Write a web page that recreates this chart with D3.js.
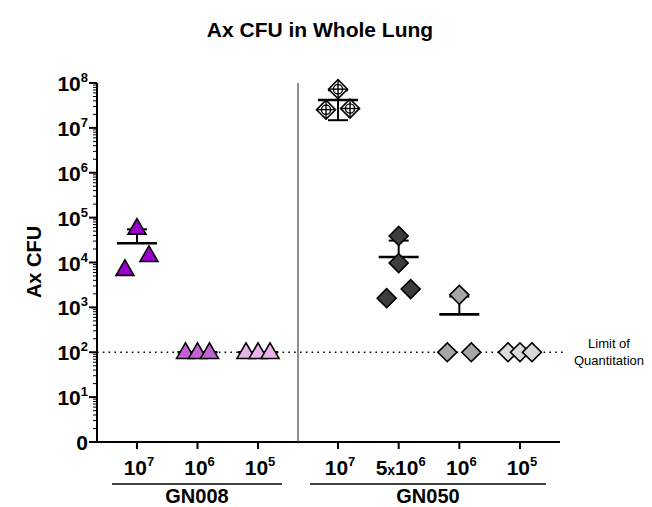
<!DOCTYPE html>
<html>
<head>
<meta charset="utf-8">
<script src="https://cdn.jsdelivr.net/npm/d3@7"></script>
<style>
  body { margin: 0; background: #fff; }
  svg { font-family: "Liberation Sans", Arial, sans-serif; }
</style>
</head>
<body>
<svg id="chart" width="652" height="507"></svg>
<script>
// --- data ---
const groups = ["GN008", "GN050"];
const doseLabels = {
  GN008: [["10", "7"], ["10", "6"], ["10", "5"]],
  GN050: [["10", "7"], ["5x10", "6"], ["10", "6"], ["10", "5"]]
};
const gn008Values = [
  [59000, 7100, 14500],
  [100, 100, 100],
  [100, 100, 100]
];
const gn050Values = [
  [73000000, 25500000, 27000000],
  [39000, 9700, 1600, 2560],
  [1900, 100, 100],
  [100, 100, 100]
];
const yTickExps = [0, 1, 2, 3, 4, 5, 6, 7, 8];
const loq = 100;

// marker fills per series
const gn008Fill = ["#9c00cf", "#c55fd6", "#e9b2ea"];
const gn050Fill = ["cross", "#3d3d3d", "#a6a6a6", "#d9d9d9"];

const svg = d3.select("#chart");

const y = d3.scaleLog().domain([1, 1e8]).range([442, 83]);
const xLeft = 97, xDiv = 298, xRight = 560;
const xg = {
  GN008: d3.scalePoint().domain(d3.range(3)).range([xLeft, xDiv]).padding(0.66),
  GN050: d3.scalePoint().domain(d3.range(4)).range([xDiv, xRight]).padding(0.66)
};

// title
svg.append("text").attr("x", 320).attr("y", 37).attr("text-anchor", "middle")
  .attr("font-size", 21).attr("font-weight", "bold").text("Ax CFU in Whole Lung");

// y label
svg.append("text").attr("transform", "translate(41,262) rotate(-90)")
  .attr("text-anchor", "middle").attr("font-size", 20).attr("font-weight", "bold").text("Ax CFU");

// y axis with minor ticks
const minorTicks = [];
for (let e = 0; e < 8; e++) for (let m = 2; m <= 9; m++) minorTicks.push(m * Math.pow(10, e));
const ax = svg.append("g");
ax.append("line").attr("x1", xLeft).attr("x2", xLeft).attr("y1", y(1e8)).attr("y2", y(1))
  .attr("stroke", "#000").attr("stroke-width", 2);
ax.selectAll(".minor").data(minorTicks).join("line")
  .attr("x1", xLeft - 4).attr("x2", xLeft).attr("y1", d => y(d)).attr("y2", d => y(d))
  .attr("stroke", "#000").attr("stroke-width", 1);
ax.selectAll(".major").data(yTickExps).join("line")
  .attr("x1", xLeft - 8).attr("x2", xLeft).attr("y1", d => y(Math.pow(10, d))).attr("y2", d => y(Math.pow(10, d)))
  .attr("stroke", "#000").attr("stroke-width", 2);
const yl = ax.selectAll(".ylab").data(yTickExps).join("text")
  .attr("x", 88).attr("y", d => y(Math.pow(10, d)) + 8)
  .attr("text-anchor", "end").attr("font-size", 21).attr("font-weight", "bold");
yl.each(function(d) {
  const t = d3.select(this);
  if (d === 0) { t.text("0"); return; }
  t.append("tspan").text("10");
  t.append("tspan").attr("dy", -9).attr("font-size", 13).text(d);
});

// x axis
svg.append("line").attr("x1", xLeft - 1).attr("x2", xRight).attr("y1", y(1)).attr("y2", y(1))
  .attr("stroke", "#000").attr("stroke-width", 2);
svg.append("line").attr("x1", xDiv).attr("x2", xDiv).attr("y1", y(1e8)).attr("y2", y(1))
  .attr("stroke", "#444").attr("stroke-width", 1.2);

// LOQ dotted line
svg.append("line").attr("x1", xLeft).attr("x2", 563).attr("y1", y(loq)).attr("y2", y(loq))
  .attr("stroke", "#000").attr("stroke-width", 1.6).attr("stroke-dasharray", "1.6,4.2");
svg.append("text").attr("x", 609).attr("y", 348).attr("text-anchor", "middle")
  .attr("font-size", 13).text("Limit of");
svg.append("text").attr("x", 609).attr("y", 365).attr("text-anchor", "middle")
  .attr("font-size", 13).text("Quantitation");

const groupSpans = { GN008: [112, 282], GN050: [310, 546] };

groups.forEach(g => {
  const sc = xg[g];
  doseLabels[g].forEach((lab, i) => {
    const cx = sc(i);
    svg.append("line").attr("x1", cx).attr("x2", cx).attr("y1", y(1)).attr("y2", y(1) + 7)
      .attr("stroke", "#000").attr("stroke-width", 2);
    const t = svg.append("text").attr("x", cx + 2).attr("y", 475).attr("text-anchor", "middle")
      .attr("font-size", 21).attr("font-weight", "bold");
    const parts = lab[0].split("x");
    if (parts.length > 1) {
      t.append("tspan").text(parts[0]);
      t.append("tspan").attr("font-size", 14).text("x");
      t.append("tspan").text(parts[1]);
    } else {
      t.append("tspan").text(lab[0]);
    }
    t.append("tspan").attr("dy", -9).attr("font-size", 13).text(lab[1]);
  });
  const sp = groupSpans[g];
  svg.append("line").attr("x1", sp[0]).attr("x2", sp[1]).attr("y1", 484).attr("y2", 484)
    .attr("stroke", "#000").attr("stroke-width", 1.5);
  svg.append("text").attr("x", (sp[0] + sp[1]) / 2).attr("y", 503).attr("text-anchor", "middle")
    .attr("font-size", 20).attr("font-weight", "bold").text(g);
});

// scatter layout: rows of points that overlap in y get spread sideways
function spread(vals) {
  const pts = vals.map((v, i) => ({ v, i, py: y(v), dx: 0 }));
  const sorted = pts.slice().sort((a, b) => b.py - a.py);
  const rows = [];
  sorted.forEach(p => {
    const last = rows[rows.length - 1];
    if (last && Math.abs(last[last.length - 1].py - p.py) < 18) last.push(p);
    else rows.push([p]);
  });
  rows.forEach(r => {
    if (r.length === 1) return;
    r.sort((a, b) => a.v - b.v);
    r.forEach((p, k) => { p.dx = -12 + 24 * k / (r.length - 1); });
  });
  return pts;
}

const triangle = d3.symbol().type(d3.symbolTriangle).size(140);
const diamond = d3.symbol().type(d3.symbolSquare).size(180);

function drawSeries(g, i, vals, fill, shape) {
  const cx = xg[g](i);
  const mean = d3.mean(vals);
  const sd = d3.deviation(vals);
  const layer = svg.append("g");
  // error bar (mean ± SD), lower end dropped if not positive
  const hi = mean + sd, lo = mean - sd;
  if (sd > 0) {
    layer.append("line").attr("x1", cx).attr("x2", cx).attr("y1", y(hi))
      .attr("y2", lo > 0 ? y(lo) : y(mean)).attr("stroke", "#000").attr("stroke-width", 2);
    layer.append("line").attr("x1", cx - 10).attr("x2", cx + 10).attr("y1", y(hi)).attr("y2", y(hi))
      .attr("stroke", "#000").attr("stroke-width", 2);
    if (lo > 0) layer.append("line").attr("x1", cx - 10).attr("x2", cx + 10).attr("y1", y(lo)).attr("y2", y(lo))
      .attr("stroke", "#000").attr("stroke-width", 2);
  }
  layer.append("line").attr("x1", cx - 20).attr("x2", cx + 20).attr("y1", y(mean)).attr("y2", y(mean))
    .attr("stroke", "#000").attr("stroke-width", 2.6);

  spread(vals).forEach(p => {
    const m = layer.append("g").attr("transform", `translate(${cx + p.dx},${p.py})`);
    if (shape === "tri") {
      m.append("path").attr("d", triangle()).attr("transform", "translate(0,1)")
        .attr("fill", fill).attr("stroke", "#000").attr("stroke-width", 1.6);
    } else {
      const cross = fill === "cross";
      m.append("path").attr("d", diamond()).attr("transform", "rotate(45)")
        .attr("fill", cross ? "#fff" : fill).attr("stroke", "#000").attr("stroke-width", 1.6);
      if (cross) {
        m.append("circle").attr("r", 4.6).attr("fill", "none").attr("stroke", "#000").attr("stroke-width", 1.4);
        m.append("line").attr("x1", -9).attr("x2", 9).attr("stroke", "#000").attr("stroke-width", 1.4);
        m.append("line").attr("y1", -9).attr("y2", 9).attr("stroke", "#000").attr("stroke-width", 1.4);
      }
    }
  });
}

gn008Values.forEach((v, i) => drawSeries("GN008", i, v, gn008Fill[i], "tri"));
gn050Values.forEach((v, i) => drawSeries("GN050", i, v, gn050Fill[i], "dia"));
</script>
</body>
</html>
